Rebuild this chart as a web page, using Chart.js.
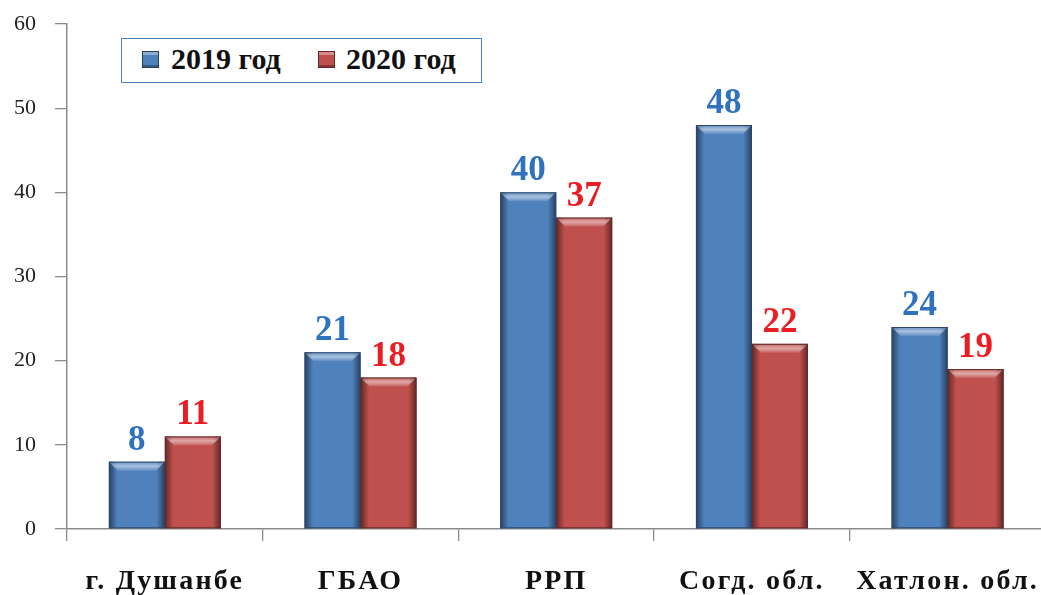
<!DOCTYPE html>
<html>
<head>
<meta charset="utf-8">
<script src="https://cdn.jsdelivr.net/npm/chart.js@4.4.0/dist/chart.umd.min.js"></script>
<style>
  html, body { margin: 0; padding: 0; background: #fff; overflow: hidden; }
  #wrap { position: relative; width: 1050px; height: 595px; }
  #chart { display: block; }
  #legend {
    position: absolute; left: 121px; top: 38px; width: 359px; height: 43px;
    border: 1px solid #4f81bd; background: #fff;
    font: bold 30px "Liberation Serif", serif; color: #111;
  }
  #legend .item { position: absolute; top: 3px; line-height: 34px; white-space: nowrap; }
  #legend .sw {
    position: absolute; top: 12px; width: 15px; height: 15px;
    border: 1px solid rgba(0,0,0,0.5);
  }
</style>
</head>
<body>
<div id="wrap">
  <canvas id="chart" width="1050" height="595"></canvas>
  <div id="legend"></div>
</div>
<script>
'use strict';

const categories = ['г. Душанбе', 'ГБАО', 'РРП', 'Согд. обл.', 'Хатлон. обл.'];
const seriesNames = ['2019 год', '2020 год'];
const values2019 = [8, 21, 40, 48, 24];
const values2020 = [11, 18, 37, 22, 19];
const yTicks = [0, 10, 20, 30, 40, 50, 60];

const barColors = ['#4f81bd', '#c0504d'];
const edgeColors = ['#2b4668', '#5e2a28'];
const labelColors = ['#2e72c0', '#ea1c24'];

// legend built as html so it can sit inside the plot
const legendEl = document.getElementById('legend');
const legendX = [[20, 49], [196, 224]];
seriesNames.forEach((name, i) => {
    const sw = document.createElement('div');
    sw.className = 'sw';
    sw.style.left = legendX[i][0] + 'px';
    sw.style.background = barColors[i];
    sw.style.boxShadow = 'inset 0 3px 0 rgba(255,255,255,0.35), inset 0 -2px 0 rgba(0,0,0,0.3)';
    legendEl.appendChild(sw);
    const txt = document.createElement('div');
    txt.className = 'item';
    txt.style.left = legendX[i][1] + 'px';
    txt.textContent = name;
    legendEl.appendChild(txt);
});

// wider spacing for category names (the original looks letter-spaced)
const spacingPlugin = {
    id: 'spacing',
    beforeDraw(chart) {
        const sx = chart.scales.x;
        if (sx._spaced) return;
        const orig = sx.drawLabels;
        sx.drawLabels = function (area) {
            const ctx = this.ctx;
            ctx.save();
            ctx.letterSpacing = '2.2px';
            orig.call(this, area);
            ctx.restore();
        };
        sx._spaced = true;
    }
};

// bevel look + value labels
const bevelPlugin = {
    id: 'bevel',
    afterDatasetsDraw(chart) {
        const ctx = chart.ctx;
        chart.data.datasets.forEach((ds, di) => {
            const meta = chart.getDatasetMeta(di);
            meta.data.forEach((bar, i) => {
                const left = bar.x - bar.width / 2;
                const right = bar.x + bar.width / 2;
                const top = bar.y;
                const bottom = bar.base;
                const b = 9;
                ctx.save();
                // side shading
                let g = ctx.createLinearGradient(left, 0, right, 0);
                g.addColorStop(0, 'rgba(0,0,0,0.5)');
                g.addColorStop(0.15, 'rgba(0,0,0,0)');
                g.addColorStop(0.85, 'rgba(0,0,0,0)');
                g.addColorStop(1, 'rgba(0,0,0,0.5)');
                ctx.fillStyle = g;
                ctx.fillRect(left, top, right - left, bottom - top);
                // top bevel
                ctx.beginPath();
                ctx.moveTo(left, top);
                ctx.lineTo(right, top);
                ctx.lineTo(right - b, top + b);
                ctx.lineTo(left + b, top + b);
                ctx.closePath();
                g = ctx.createLinearGradient(0, top, 0, top + b);
                g.addColorStop(0, 'rgba(255,255,255,0.15)');
                g.addColorStop(0.5, 'rgba(255,255,255,0.5)');
                g.addColorStop(1, 'rgba(255,255,255,0.1)');
                ctx.fillStyle = g;
                ctx.fill();
                ctx.strokeStyle = edgeColors[di];
                ctx.lineWidth = 1;
                ctx.strokeRect(left + 0.5, top + 0.5, right - left - 1, bottom - top - 1);
                // value
                ctx.fillStyle = labelColors[di];
                ctx.font = 'bold 35px "Liberation Serif", serif';
                ctx.textAlign = 'center';
                ctx.textBaseline = 'alphabetic';
                ctx.fillText(String(ds.data[i]), bar.x, top - 12);
                ctx.restore();
            });
        });
    }
};

new Chart(document.getElementById('chart'), {
    type: 'bar',
    data: {
        labels: categories,
        datasets: [
            { label: seriesNames[0], data: values2019, backgroundColor: barColors[0] },
            { label: seriesNames[1], data: values2020, backgroundColor: barColors[1] }
        ]
    },
    options: {
        responsive: false,
        animation: false,
        maintainAspectRatio: false,
        layout: { padding: { top: 24, right: 2, left: 0, bottom: 0 } },
        datasets: { bar: { categoryPercentage: 0.572, barPercentage: 1 } },
        plugins: { legend: { display: false }, tooltip: { enabled: false } },
        scales: {
            x: {
                offset: true,
                grid: { offset: true, drawOnChartArea: false, drawTicks: true, tickLength: 12, color: '#8c8c8c', lineWidth: 1.3 },
                border: { color: '#8c8c8c', width: 1.5 },
                ticks: {
                    color: '#111',
                    padding: 24,
                    maxRotation: 0,
                    autoSkip: false,
                    font: { family: '"Liberation Serif", serif', size: 28, weight: 'bold' }
                },
                afterFit(scale) {
                    scale.height = 66;
                    scale.paddingTop = 0;
                    scale.paddingBottom = 0;
                }
            },
            y: {
                min: 0,
                max: 60,
                afterBuildTicks(scale) { scale.ticks = yTicks.map(v => ({ value: v })); },
                grid: { drawOnChartArea: false, drawTicks: true, tickLength: 12, color: '#8c8c8c', lineWidth: 1.3 },
                border: { color: '#8c8c8c', width: 1.5 },
                ticks: {
                    color: '#222',
                    padding: 19,
                    font: { family: '"Liberation Serif", serif', size: 22 }
                },
                afterFit(scale) {
                    scale.width = 67;
                    scale.paddingTop = 0;
                    scale.paddingBottom = 0;
                }
            }
        }
    },
    plugins: [spacingPlugin, bevelPlugin]
});
</script>
</body>
</html>
